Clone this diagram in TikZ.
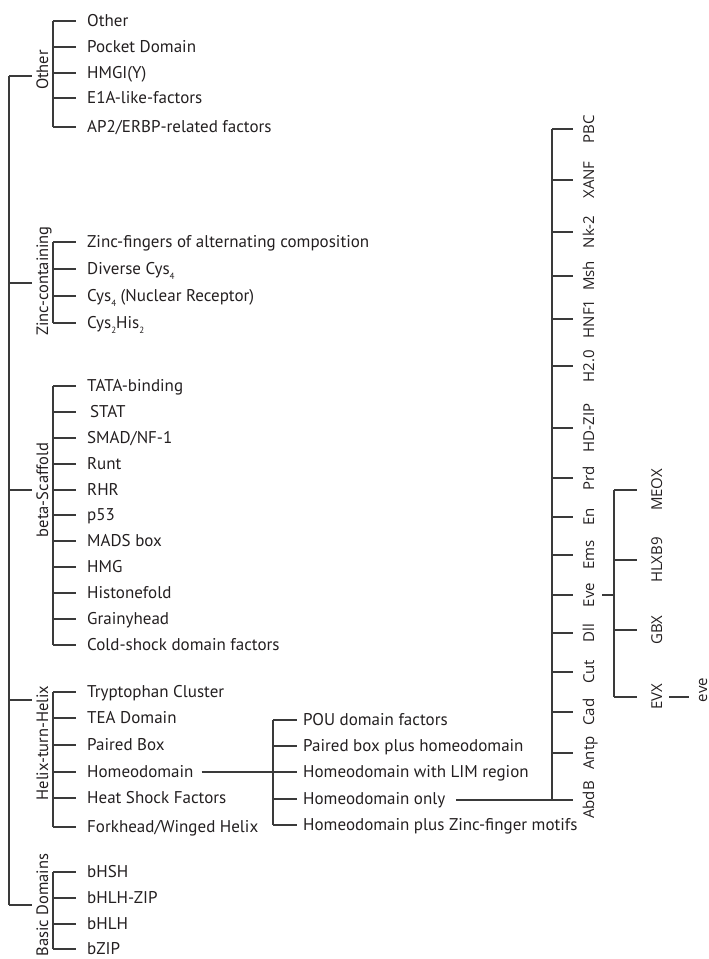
\documentclass[tikz,border=0pt]{standalone}
\usepackage{fontspec}
\newfontfamily\lf{PT Sans}
\newfontfamily\rf{Open Sans}
\usetikzlibrary{calc}
\definecolor{lineC}{HTML}{3A3A3A}
\definecolor{txtC}{HTML}{231F20}
\newcommand{\sbs}[1]{\raisebox{-0.3em}{\fontsize{9}{10}\selectfont #1}}
\tikzset{
  ln/.style={draw=lineC, line width=1.15pt},
  lab/.style={anchor=base west, inner sep=0pt, text=txtC, font=\lf\fontsize{17}{20}\selectfont},
  glab/.style={anchor=base, rotate=90, inner sep=0pt, text=txtC, font=\lf\fontsize{16.5}{19}\selectfont},
  rlab/.style={anchor=base, rotate=90, inner sep=0pt, text=txtC, font=\rf\fontsize{15}{18}\selectfont},
}
\begin{document}
\begin{tikzpicture}[x=1pt,y=-1pt]
\useasboundingbox (0,0) rectangle (709,959);
% ---------- main trunk ----------
\coordinate (tTop) at (9,76);
\coordinate (tBot) at (9,905);
\draw[ln] (tTop) -- (tBot);
% group labels
\node[glab] (gOther) at (48,70) {Other};
\node[glab] (gZinc) at (48,281) {Zinc-containing};
\node[glab] (gBeta) at (48,490) {beta-Scaffold};
\node[glab] (gHTH) at (48,743) {Helix-turn-Helix};
\node[glab] (gBasic) at (48,905) {Basic Domains};
\foreach \n/\y in {Other/76,Zinc/283,Beta/490,HTH/700,Basic/905}{
  \coordinate (m\n) at (9,\y);
  \coordinate (e\n) at (32,\y);
  \draw[ln] (m\n) -- (e\n);
}
% ---------- child lists ----------
\newcommand{\childlist}[3]{% name, top y, bottom y
  \coordinate (#1a) at (53,#2);
  \coordinate (#1b) at (53,#3);
  \draw[ln] (#1a) -- (#1b);
}
\childlist{cO}{21}{127}
\childlist{cZ}{242}{323}
\childlist{cB}{386}{645}
\childlist{cH}{692}{827}
\childlist{cD}{872}{949}
\foreach \k/\y/\t in {
  o1/21/Other, o2/47/Pocket Domain, o3/73/HMGI(Y), o4/98/E1A-like-factors, o5/127/AP2\slash ERBP-related factors,
  z1/242/Zinc-fingers of alternating composition, z2/269/Diverse Cys\sbs{4}, z3/296/Cys\sbs{4} (Nuclear Receptor), z4/323/Cys\sbs{2}His\sbs{2},
  b1/386/TATA-binding, b2/412/\,STAT, b3/438/SMAD\slash NF-1, b4/464/Runt, b5/490/RHR, b6/515/p53, b7/541/MADS box, b8/567/HMG, b9/593/Histonefold, b10/619/Grainyhead, b11/645/Cold-shock domain factors,
  h1/692/Tryptophan Cluster, h2/718/TEA Domain, h3/745/Paired Box, h4/772/Homeodomain, h5/798/Heat Shock Factors, h6/827/Forkhead\slash Winged Helix,
  d1/872/bHSH, d2/898/bHLH-ZIP, d3/924/bHLH, d4/949/bZIP}{
  \coordinate (k\k) at (53,\y);
  \node[lab] (n\k) at (87,\y+5.5) {\t};
  \draw[ln] (k\k) -- (76,\y);
}
% ---------- homeodomain subtree ----------
\coordinate (hjoin) at (273,772);
\draw[ln] (nh4.east |- hjoin) ++(8,0) coordinate (hstart) -- (hjoin);
\coordinate (sA) at (273,720);
\coordinate (sB) at (273,825);
\draw[ln] (sA) -- (sB);
\foreach \k/\y/\t in {s1/720/POU domain factors, s2/746/Paired box plus homeodomain, s3/772/Homeodomain with LIM region, s4/799/Homeodomain only, s5/825/Homeodomain plus Zinc-finger motifs}{
  \coordinate (k\k) at (273,\y);
  \node[lab] (n\k) at (303,\y+5.5) {\t};
  \draw[ln] (k\k) -- (297,\y);
}
% ---------- right homeodomain-only classes ----------
\coordinate (rA) at (552,129);
\coordinate (rB) at (552,800);
\draw[ln] (rA) -- (rB);
\draw[ln] ($(ns4.east)+(11,0)$) |- (rB);
\foreach \k/\y/\t in {PBC/129/PBC, XANF/180/XANF, Nk/232/Nk-2, Msh/276/Msh, HNF/319/HNF1, Ht/366/H2.0, HDZ/428/HD-ZIP, Prd/478/Prd, En/517/En, Ems/555/Ems, Eve/595/Eve, Dll/633/Dll, Cut/672/Cut, Cad/712/Cad, Antp/753/Antp, AbdB/800/AbdB}{
  \coordinate (k\k) at (552,\y);
  \node[rlab] (n\k) at (594,\y) {\t};
  \draw[ln] (k\k) -- (573,\y);
}
% ---------- Eve subtree ----------
\coordinate (ejoin) at (614,595);
\draw[ln] ($(nEve.south)+(8,0)$) -- (ejoin);
\coordinate (eA) at (614,490);
\coordinate (eB) at (614,697);
\draw[ln] (eA) -- (eB);
\foreach \k/\y/\t in {MEOX/490/MEOX, HLXB/560/HLXB9, GBX/630/GBX, EVX/697/EVX}{
  \coordinate (k\k) at (614,\y);
  \node[rlab] (n\k) at (662,\y) {\t};
  \draw[ln] (k\k) -- (637,\y);
}
\node[rlab] (neve) at (707,690) {eve};
\draw[ln] ($(nEVX.south)+(7,0)$) -- ($(nEVX.south)+(27,0)$);
\end{tikzpicture}
\end{document}
